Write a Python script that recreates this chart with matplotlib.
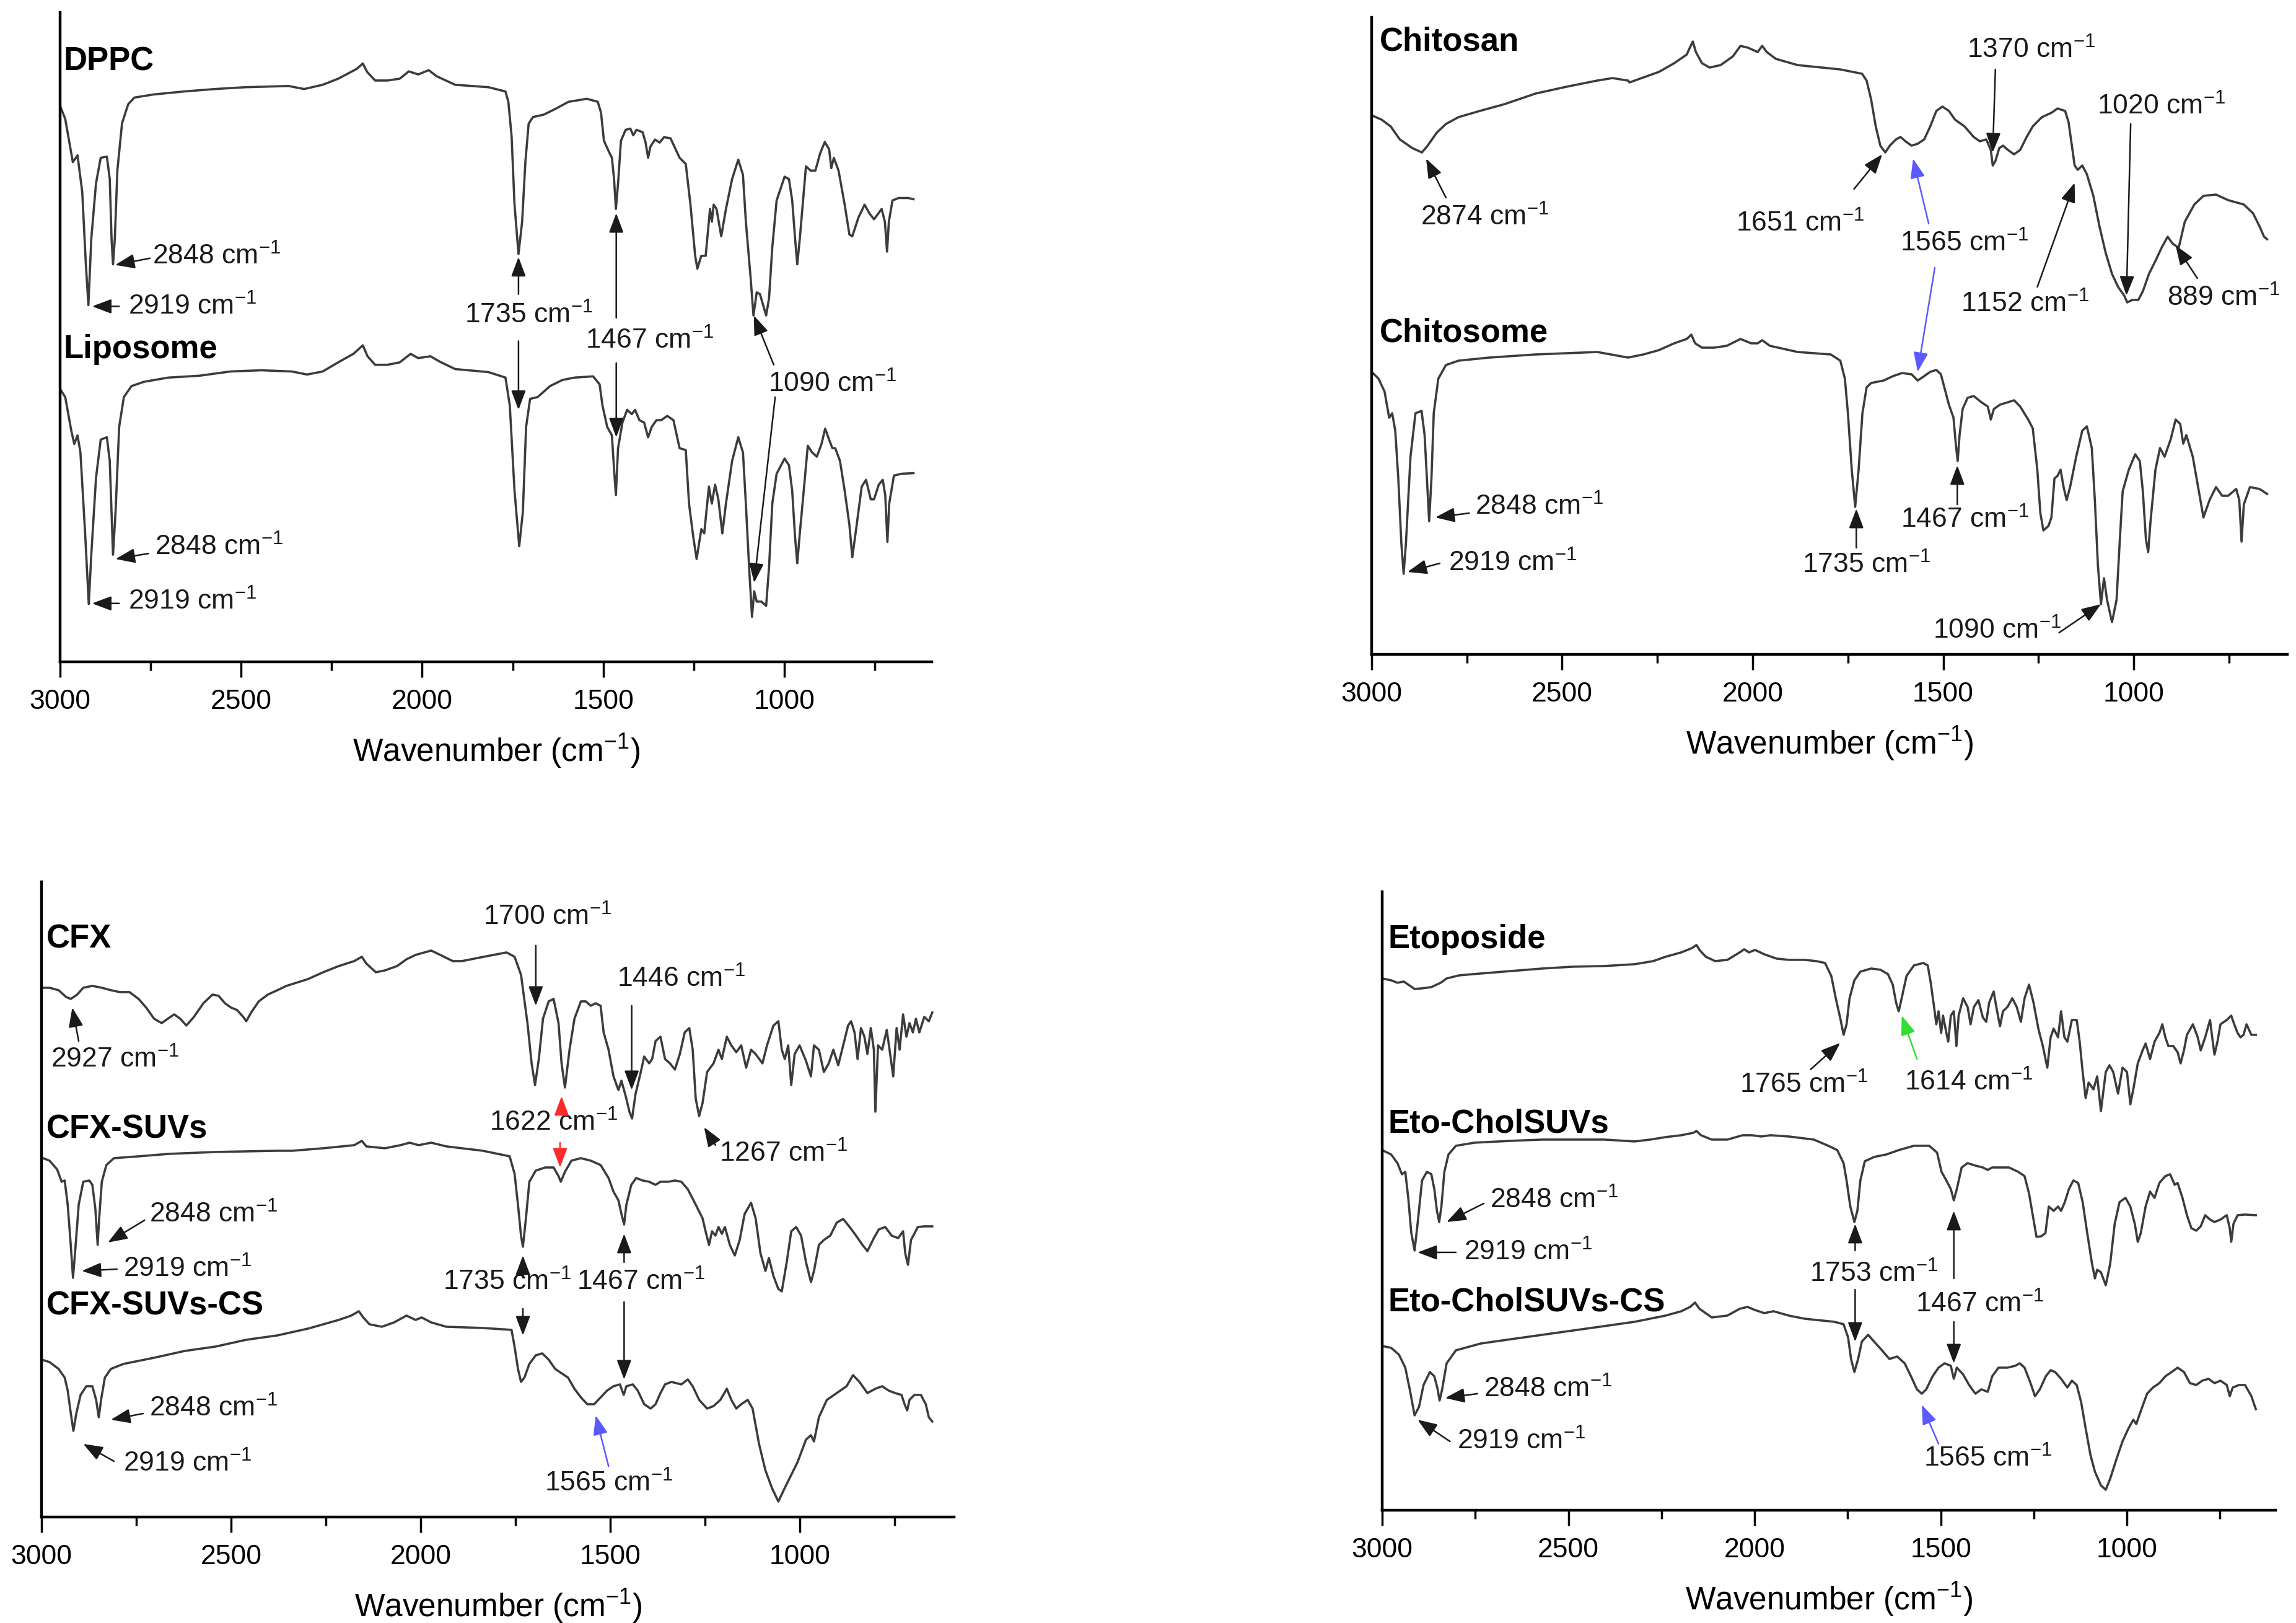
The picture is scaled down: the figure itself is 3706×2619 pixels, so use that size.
import matplotlib
matplotlib.use("Agg")
import matplotlib.pyplot as plt
from matplotlib.ticker import MultipleLocator

plt.rcParams['font.family'] = ['Liberation Sans', 'DejaVu Sans']
plt.rcParams['mathtext.fontset'] = 'custom'
plt.rcParams['mathtext.rm'] = 'Liberation Sans'
plt.rcParams['mathtext.it'] = 'Liberation Sans:italic'
plt.rcParams['mathtext.bf'] = 'Liberation Sans:bold'
plt.rcParams['mathtext.default'] = 'rm'

# ---------------- spectra (wavenumber, transmittance a.u., stacked) ----------------
dppc_w = [3000, 2986, 2969, 2965, 2952, 2939, 2929, 2922, 2914, 2901, 2888, 2871, 2863, 2858, 2854, 2849,
          2842, 2829, 2812, 2795, 2743, 2658, 2573, 2488, 2369, 2326, 2275, 2232, 2181, 2164, 2152, 2130,
          2096, 2062, 2037, 2011, 1982, 1960, 1909, 1817, 1770, 1762, 1753, 1745, 1734, 1724, 1715, 1706,
          1694, 1664, 1630, 1596, 1545, 1515, 1506, 1498, 1485, 1476, 1470, 1465, 1459, 1451, 1438, 1425,
          1417, 1408, 1391, 1383, 1376, 1370, 1357, 1344, 1332, 1314, 1289, 1272, 1259, 1246, 1240, 1229,
          1217, 1205, 1200, 1195, 1187, 1174, 1161, 1144, 1127, 1114, 1106, 1093, 1085, 1076, 1067, 1050,
          1042, 1033, 1021, 999, 987, 978, 970, 964, 957, 948, 940, 927, 914, 901, 888, 876, 870, 863, 850,
          833, 820, 812, 795, 778, 765, 752, 731, 722, 716, 711, 701, 684, 658, 643]
dppc_v = [91.3, 89.2, 83.5, 82.1, 83.2, 77.2, 65.3, 58.6, 69.5, 78.6, 82.8, 83.0, 79.3, 69.5, 65.3, 69.5,
          80.7, 88.5, 91.6, 92.7, 93.2, 93.7, 94.1, 94.4, 94.6, 94.1, 94.8, 95.8, 97.4, 98.3, 96.9, 95.5,
          95.5, 95.8, 97.0, 96.5, 97.2, 96.2, 94.8, 94.4, 93.7, 92.0, 86.3, 75.1, 67.0, 72.3, 82.1, 88.4,
          89.5, 89.9, 90.9, 92.0, 92.5, 92.0, 90.2, 85.6, 83.9, 82.8, 79.3, 74.4, 78.6, 85.6, 87.4, 87.6,
          86.5, 87.4, 87.0, 85.3, 82.8, 84.6, 85.8, 85.3, 86.2, 86.0, 82.8, 81.8, 75.1, 66.7, 64.6, 66.7,
          66.7, 74.4, 72.3, 75.1, 74.4, 69.9, 74.4, 79.3, 82.5, 80.0, 72.3, 63.2, 56.9, 60.7, 60.4, 56.9,
          59.7, 68.1, 75.8, 79.7, 79.3, 75.8, 69.5, 65.3, 69.5, 75.8, 81.4, 80.7, 80.7, 83.5, 85.4, 84.2,
          81.1, 82.8, 80.7, 75.1, 70.2, 69.9, 73.0, 75.1, 73.7, 72.7, 74.4, 72.3, 67.4, 72.3, 75.8, 76.2,
          76.2, 76.0]

lipo_w = [3000, 2986, 2969, 2961, 2952, 2944, 2931, 2921, 2914, 2901, 2888, 2871, 2863, 2854, 2847, 2837,
          2824, 2803, 2769, 2701, 2616, 2530, 2445, 2360, 2318, 2275, 2232, 2190, 2164, 2151, 2130, 2096,
          2062, 2032, 2011, 1977, 1951, 1909, 1817, 1770, 1758, 1745, 1732, 1722, 1713, 1702, 1681, 1647,
          1613, 1579, 1528, 1510, 1502, 1489, 1476, 1470, 1465, 1459, 1447, 1434, 1421, 1412, 1400, 1387,
          1376, 1366, 1353, 1340, 1323, 1306, 1289, 1272, 1263, 1251, 1242, 1229, 1221, 1208, 1200, 1191,
          1182, 1171, 1161, 1144, 1127, 1114, 1106, 1097, 1089, 1083, 1076, 1063, 1050, 1042, 1033, 1021,
          999, 987, 978, 970, 964, 957, 944, 935, 923, 910, 897, 887, 876, 867, 859, 846, 833, 820, 812,
          803, 786, 774, 761, 752, 739, 728, 721, 715, 710, 697, 676, 643]
lipo_v = [44.8, 43.5, 37.9, 35.8, 37.2, 34.4, 21.1, 9.5, 17.6, 30.2, 36.5, 36.9, 33.0, 17.6, 24.6, 38.6,
          43.5, 45.3, 46.0, 46.7, 47.0, 47.7, 47.9, 47.7, 47.2, 47.7, 49.2, 50.6, 52.0, 50.2, 48.8, 48.8,
          49.2, 50.6, 49.9, 50.2, 49.3, 48.1, 47.6, 46.7, 42.1, 28.1, 19.0, 24.6, 38.6, 43.2, 43.5, 45.3,
          46.3, 46.7, 46.9, 45.6, 42.1, 38.6, 37.2, 31.6, 27.4, 35.1, 39.3, 41.4, 40.7, 41.4, 39.7, 39.3,
          36.9, 38.6, 39.7, 39.7, 40.4, 39.7, 35.1, 34.8, 26.0, 20.4, 16.9, 21.8, 21.1, 28.8, 26.0, 29.1,
          26.7, 21.1, 26.0, 33.0, 36.9, 34.4, 26.0, 15.5, 7.4, 11.6, 9.9, 9.9, 9.2, 15.5, 26.0, 30.9,
          33.4, 32.3, 28.1, 20.4, 16.2, 21.1, 29.5, 35.5, 34.4, 33.7, 35.8, 38.3, 36.5, 35.1, 35.1, 33.0,
          28.1, 22.5, 17.2, 21.1, 28.8, 29.9, 26.7, 26.7, 29.1, 29.9, 27.4, 19.7, 26.0, 30.6, 30.9, 31.0]

chitosan_w = [3000, 2974, 2950, 2926, 2893, 2868, 2853, 2829, 2805, 2772, 2716, 2651, 2570, 2489, 2408,
              2368, 2327, 2323, 2287, 2246, 2206, 2173, 2165, 2157, 2149, 2133, 2113, 2084, 2052, 2032,
              2012, 1987, 1975, 1963, 1939, 1882, 1770, 1713, 1701, 1689, 1677, 1665, 1652, 1640, 1624,
              1612, 1599, 1583, 1567, 1550, 1534, 1518, 1502, 1485, 1469, 1444, 1420, 1404, 1387, 1375,
              1370, 1363, 1353, 1343, 1330, 1314, 1298, 1281, 1265, 1241, 1216, 1200, 1180, 1171, 1163,
              1155, 1147, 1135, 1123, 1106, 1090, 1074, 1057, 1041, 1025, 1017, 1004, 988, 976, 960, 943,
              927, 911, 898, 882, 866, 841, 817, 784, 752, 711, 687, 670, 658, 650]
chitosan_v = [87.0, 86.3, 85.2, 83.1, 81.7, 81.0, 82.1, 84.2, 85.6, 86.7, 87.7, 88.8, 90.5, 91.6, 92.6,
              93.0, 92.6, 92.3, 93.1, 94.0, 95.4, 96.8, 97.9, 98.9, 97.2, 95.4, 94.7, 95.1, 96.5, 98.2,
              97.9, 97.2, 98.2, 97.2, 96.1, 95.1, 94.4, 93.7, 92.6, 89.5, 85.2, 82.1, 81.0, 82.1, 83.1,
              83.5, 82.8, 82.1, 82.4, 83.1, 85.2, 87.7, 88.4, 87.7, 86.3, 85.2, 83.5, 82.8, 83.1, 81.4,
              78.9, 79.6, 81.7, 82.1, 81.4, 80.7, 81.4, 83.5, 85.2, 86.7, 87.4, 88.1, 87.7, 85.9, 82.4,
              78.9, 78.2, 78.9, 77.5, 74.0, 69.1, 64.9, 61.4, 59.3, 57.9, 56.8, 57.2, 57.2, 58.6, 61.4, 63.5,
              65.6, 67.4, 66.3, 65.6, 69.8, 72.6, 74.0, 74.2, 73.3, 72.6, 71.2, 69.1, 67.4, 67.0]

chitosome_w = [3000, 2982, 2966, 2954, 2946, 2938, 2930, 2922, 2916, 2910, 2898, 2885, 2869, 2861, 2855,
               2849, 2843, 2837, 2825, 2805, 2772, 2691, 2570, 2489, 2408, 2327, 2287, 2246, 2206, 2173,
               2161, 2151, 2133, 2101, 2068, 2032, 2004, 1987, 1975, 1955, 1882, 1795, 1770, 1758, 1750,
               1740, 1731, 1722, 1712, 1701, 1689, 1656, 1632, 1608, 1583, 1567, 1550, 1534, 1518, 1506,
               1497, 1485, 1473, 1467, 1462, 1457, 1449, 1436, 1420, 1400, 1383, 1375, 1367, 1351, 1330,
               1314, 1298, 1277, 1265, 1253, 1245, 1237, 1224, 1216, 1208, 1200, 1192, 1184, 1176, 1167,
               1151, 1135, 1123, 1110, 1102, 1094, 1086, 1078, 1070, 1057, 1045, 1037, 1029, 1013, 996, 984,
               976, 968, 962, 956, 943, 931, 919, 903, 890, 878, 870, 862, 845, 829, 817, 801, 784, 768,
               752, 731, 723, 717, 711, 695, 670, 650]
chitosome_v = [45.6, 44.5, 42.4, 38.2, 38.9, 36.1, 28.4, 17.9, 13.0, 17.9, 31.9, 38.9, 39.3, 35.4, 28.4,
               21.5, 28.4, 38.9, 44.5, 46.7, 47.4, 47.9, 48.4, 48.6, 48.8, 47.9, 48.4, 49.1, 50.2, 50.9,
               51.6, 50.2, 49.5, 49.5, 49.8, 50.9, 50.2, 50.2, 50.7, 49.8, 48.8, 48.4, 47.4, 44.5, 38.9,
               29.8, 23.8, 29.8, 38.9, 43.1, 43.8, 44.2, 44.9, 45.4, 45.2, 44.2, 44.9, 45.6, 45.9, 45.2,
               43.1, 40.3, 38.2, 34.0, 31.2, 35.4, 39.6, 41.4, 41.7, 40.7, 40.0, 37.9, 39.6, 40.3, 40.7,
               41.0, 40.0, 37.9, 36.5, 29.8, 22.8, 20.0, 20.7, 22.1, 28.4, 28.8, 29.8, 27.0, 24.9, 27.0,
               31.9, 36.1, 36.8, 33.3, 24.9, 14.4, 8.1, 12.3, 8.8, 5.2, 8.8, 17.9, 26.3, 29.8, 32.3, 31.2,
               26.3, 18.6, 16.5, 21.4, 29.8, 33.3, 31.9, 34.7, 37.9, 37.2, 34.0, 35.4, 31.9, 26.3, 22.1,
               24.9, 27.0, 25.6, 25.6, 26.7, 24.9, 18.2, 24.2, 27.0, 26.7, 25.9]

cfx_w = [3000, 2979, 2955, 2935, 2923, 2906, 2890, 2866, 2841, 2817, 2793, 2768, 2744, 2724, 2703, 2683,
         2667, 2650, 2634, 2618, 2598, 2573, 2549, 2533, 2516, 2500, 2484, 2468, 2460, 2447, 2427, 2403,
         2378, 2354, 2297, 2257, 2216, 2175, 2155, 2143, 2118, 2094, 2062, 2037, 2013, 1972, 1948, 1915,
         1891, 1833, 1773, 1752, 1735, 1718, 1707, 1698, 1688, 1677, 1662, 1649, 1636, 1628, 1619, 1607,
         1594, 1577, 1564, 1551, 1538, 1525, 1517, 1504, 1491, 1478, 1470, 1457, 1449, 1442, 1433, 1419,
         1410, 1397, 1389, 1380, 1367, 1355, 1342, 1329, 1316, 1303, 1291, 1282, 1274, 1265, 1256, 1244,
         1227, 1214, 1205, 1192, 1180, 1167, 1154, 1141, 1128, 1116, 1098, 1086, 1069, 1056, 1047, 1039,
         1030, 1022, 1013, 1000, 983, 970, 962, 949, 936, 923, 911, 898, 885, 872, 864, 855, 847, 838,
         829, 821, 812, 804, 800, 793, 782, 770, 761, 753, 744, 736, 727, 718, 710, 701, 693, 684, 671,
         659, 650]
cfx_v = [85.4, 85.4, 85.0, 83.9, 83.6, 84.3, 85.4, 85.7, 85.4, 85.0, 84.7, 84.7, 83.6, 82.2, 80.4, 79.7,
         80.4, 81.1, 80.4, 79.3, 80.7, 82.9, 84.3, 84.1, 82.9, 82.2, 81.8, 80.7, 80.0, 81.4, 83.2, 84.3,
         85.0, 85.7, 86.8, 87.9, 88.9, 89.7, 90.4, 89.3, 87.9, 88.2, 88.9, 90.0, 90.7, 91.4, 90.7, 89.7,
         89.7, 90.4, 91.1, 90.4, 87.5, 79.7, 73.2, 69.7, 73.9, 80.4, 83.2, 83.6, 79.7, 73.2, 69.3, 75.4,
         80.4, 83.2, 83.2, 82.5, 82.9, 82.5, 78.2, 75.4, 71.1, 68.9, 70.4, 67.5, 65.4, 64.3, 68.2, 71.8,
         74.3, 73.2, 73.9, 76.8, 77.5, 73.9, 73.2, 72.2, 74.7, 78.2, 78.9, 75.4, 67.5, 64.7, 66.8, 71.8,
         73.2, 75.4, 73.9, 77.5, 76.1, 75.0, 76.1, 72.5, 75.4, 74.7, 73.2, 76.1, 79.3, 80.0, 75.4, 73.9,
         76.1, 69.7, 74.7, 76.1, 73.6, 71.1, 76.1, 75.4, 71.8, 73.2, 75.4, 72.9, 76.1, 79.3, 80.0, 78.2,
         73.9, 78.9, 77.5, 74.7, 78.9, 75.4, 65.4, 76.1, 75.4, 78.6, 74.7, 71.1, 78.9, 75.4, 81.1, 77.5,
         79.7, 78.2, 80.4, 78.2, 80.7, 80.0, 81.4]

cfx_suv_w = [3000, 2979, 2959, 2947, 2939, 2931, 2923, 2917, 2910, 2902, 2890, 2874, 2866, 2858, 2852,
             2848, 2841, 2829, 2809, 2744, 2663, 2541, 2378, 2338, 2257, 2175, 2155, 2143, 2094, 2053,
             2029, 2005, 1972, 1932, 1836, 1765, 1752, 1743, 1735, 1730, 1722, 1713, 1696, 1671, 1649,
             1636, 1630, 1619, 1602, 1577, 1551, 1525, 1504, 1491, 1478, 1470, 1463, 1457, 1444, 1431,
             1414, 1397, 1380, 1367, 1346, 1329, 1312, 1295, 1274, 1256, 1248, 1239, 1231, 1222, 1214,
             1205, 1197, 1184, 1171, 1158, 1145, 1128, 1116, 1103, 1090, 1081, 1069, 1056, 1047, 1034,
             1022, 1009, 996, 983, 970, 962, 949, 936, 919, 902, 885, 868, 851, 834, 821, 804, 791, 774,
             757, 740, 727, 721, 714, 706, 688, 671, 650]
cfx_suv_v = [58.0, 57.5, 56.1, 54.1, 54.3, 50.4, 43.9, 38.6, 43.9, 50.4, 54.1, 54.3, 53.6, 49.7, 43.9,
             48.2, 54.1, 56.8, 57.9, 58.2, 58.6, 58.9, 59.1, 59.1, 59.5, 60.0, 60.7, 59.8, 59.5, 60.0,
             60.4, 60.0, 60.4, 59.8, 59.1, 58.2, 55.4, 50.4, 45.4, 43.6, 48.2, 54.1, 55.9, 56.4, 56.4,
             55.0, 54.1, 55.7, 57.5, 57.9, 57.5, 56.8, 54.7, 52.5, 51.1, 48.9, 47.2, 50.4, 53.6, 54.7,
             54.3, 54.1, 53.6, 54.1, 54.1, 54.3, 54.1, 52.9, 50.4, 48.2, 46.1, 43.9, 46.1, 45.4, 46.8,
             45.7, 46.8, 43.9, 42.2, 44.7, 48.9, 50.7, 48.2, 42.5, 39.7, 41.8, 38.9, 36.8, 36.4, 41.1,
             46.1, 46.8, 45.4, 41.1, 37.9, 39.7, 43.9, 44.7, 45.4, 47.5, 48.1, 46.8, 45.4, 43.9, 42.9,
             45.0, 46.4, 46.8, 45.4, 45.0, 46.1, 42.5, 40.7, 44.7, 46.8, 46.9, 46.9]

cfx_cs_w = [3000, 2979, 2955, 2939, 2931, 2923, 2916, 2908, 2897, 2882, 2866, 2856, 2849, 2843, 2833,
            2817, 2784, 2703, 2622, 2541, 2460, 2378, 2297, 2216, 2183, 2163, 2151, 2135, 2102, 2070,
            2037, 2013, 1997, 1972, 1932, 1836, 1760, 1752, 1743, 1735, 1726, 1713, 1696, 1679, 1662,
            1645, 1628, 1611, 1594, 1577, 1560, 1542, 1525, 1508, 1491, 1474, 1464, 1457, 1440, 1427,
            1410, 1393, 1380, 1367, 1355, 1338, 1312, 1295, 1282, 1265, 1244, 1227, 1209, 1192, 1180,
            1167, 1154, 1137, 1124, 1107, 1090, 1073, 1056, 1039, 1022, 1005, 983, 970, 962, 949, 928,
            902, 876, 859, 842, 821, 800, 782, 765, 748, 731, 723, 716, 710, 697, 680, 667, 659, 650]
cfx_cs_v = [25.4, 25.0, 23.9, 22.5, 20.4, 16.8, 13.9, 16.8, 19.7, 21.1, 21.1, 18.9, 16.1, 18.9, 22.5,
            23.9, 24.7, 25.7, 26.8, 27.5, 28.6, 29.3, 30.4, 31.8, 32.5, 33.2, 32.2, 31.1, 30.7, 31.4,
            32.5, 31.8, 32.2, 31.4, 30.7, 30.5, 30.2, 27.5, 23.9, 21.8, 22.5, 24.7, 26.1, 26.4, 25.4,
            23.9, 23.2, 22.5, 20.7, 19.3, 18.2, 18.2, 19.3, 20.4, 21.1, 21.4, 19.7, 21.1, 21.4, 20.4,
            18.2, 17.5, 18.2, 20.0, 21.4, 21.8, 21.4, 22.2, 21.1, 18.9, 17.5, 17.9, 18.9, 20.7, 18.9,
            17.5, 18.2, 18.9, 17.5, 11.8, 7.5, 4.7, 2.5, 4.7, 6.8, 8.9, 12.5, 13.2, 12.2, 16.1, 18.9,
            20.0, 21.1, 22.9, 21.8, 20.0, 20.7, 21.1, 20.4, 20.0, 19.7, 18.2, 17.2, 18.9, 19.7, 19.7,
            18.2, 16.1, 15.4]

eto_w = [3000, 2976, 2959, 2942, 2930, 2913, 2893, 2868, 2843, 2827, 2793, 2735, 2653, 2570, 2487, 2404,
         2322, 2272, 2239, 2197, 2168, 2156, 2148, 2131, 2106, 2073, 2040, 2028, 2015, 1999, 1974, 1941,
         1908, 1866, 1835, 1811, 1794, 1782, 1769, 1761, 1753, 1745, 1732, 1716, 1687, 1662, 1642, 1629,
         1620, 1613, 1605, 1592, 1572, 1547, 1535, 1527, 1518, 1512, 1506, 1499, 1494, 1485, 1480, 1473,
         1465, 1458, 1452, 1440, 1428, 1420, 1411, 1399, 1387, 1378, 1370, 1358, 1350, 1341, 1333, 1321,
         1308, 1296, 1285, 1275, 1263, 1251, 1238, 1226, 1214, 1205, 1197, 1185, 1177, 1168, 1160, 1148,
         1135, 1127, 1119, 1111, 1103, 1090, 1080, 1070, 1057, 1047, 1037, 1024, 1012, 1000, 991, 983,
         971, 958, 950, 938, 926, 913, 905, 897, 889, 876, 864, 856, 847, 839, 823, 810, 802, 790, 777,
         769, 765, 757, 749, 732, 720, 712, 703, 695, 687, 679, 666, 654]
eto_v = [85.8, 85.5, 85.1, 85.3, 84.8, 84.1, 84.2, 84.4, 85.1, 85.8, 86.3, 86.6, 87.0, 87.4, 87.7, 87.8,
         88.1, 88.6, 89.3, 90.0, 90.7, 91.2, 90.4, 89.3, 88.6, 88.8, 90.0, 90.5, 90.0, 90.4, 89.7, 89.0,
         88.8, 88.8, 88.6, 88.3, 86.2, 82.6, 79.1, 76.7, 78.4, 82.6, 85.5, 86.9, 87.4, 87.2, 86.5, 84.8,
         81.9, 80.5, 82.6, 86.2, 87.9, 88.3, 87.9, 85.1, 81.2, 78.4, 80.5, 77.0, 79.8, 77.0, 75.6, 79.8,
         80.5, 74.9, 79.8, 82.6, 81.2, 78.4, 81.2, 82.3, 79.5, 78.8, 81.9, 83.7, 80.9, 78.1, 80.5, 81.2,
         82.6, 81.2, 78.8, 82.6, 84.8, 81.9, 77.7, 74.9, 71.4, 76.3, 77.7, 76.3, 80.5, 76.3, 75.6, 79.1,
         79.1, 75.6, 70.7, 66.5, 69.0, 67.9, 70.0, 64.4, 70.7, 71.8, 70.7, 67.2, 71.4, 70.7, 65.5, 67.9,
         72.1, 74.2, 75.3, 72.8, 75.6, 77.0, 78.4, 76.3, 74.9, 74.9, 73.9, 72.1, 74.2, 76.7, 78.4, 76.3,
         74.2, 76.3, 79.1, 75.3, 73.5, 75.6, 78.4, 79.1, 79.8, 78.4, 77.0, 76.3, 76.7, 78.4, 76.7, 76.7]

eto_suv_w = [3000, 2976, 2959, 2947, 2938, 2930, 2922, 2913, 2905, 2893, 2880, 2868, 2860, 2853, 2847,
             2841, 2833, 2822, 2802, 2752, 2653, 2570, 2487, 2404, 2322, 2280, 2239, 2197, 2164, 2156,
             2144, 2115, 2073, 2032, 2007, 1982, 1957, 1908, 1841, 1802, 1778, 1761, 1753, 1743, 1732,
             1724, 1716, 1704, 1679, 1646, 1613, 1572, 1531, 1510, 1498, 1485, 1473, 1465, 1457, 1444,
             1428, 1407, 1387, 1374, 1362, 1341, 1317, 1292, 1275, 1263, 1251, 1243, 1230, 1219, 1210,
             1197, 1185, 1177, 1167, 1156, 1144, 1131, 1119, 1107, 1094, 1086, 1080, 1070, 1057, 1045,
             1033, 1020, 1004, 991, 979, 971, 963, 950, 938, 926, 913, 897, 884, 872, 864, 851, 839, 827,
             814, 802, 790, 777, 765, 749, 732, 724, 720, 714, 703, 683, 654]
eto_suv_v = [58.1, 57.4, 56.0, 54.2, 54.6, 50.4, 44.8, 41.9, 46.2, 53.2, 54.6, 54.2, 51.8, 48.3, 46.5,
             49.0, 54.6, 57.4, 58.8, 59.3, 59.6, 59.8, 59.8, 59.8, 59.5, 59.8, 60.2, 60.5, 60.9, 61.2,
             60.5, 59.8, 59.8, 60.5, 60.5, 60.3, 60.5, 60.3, 59.8, 58.8, 58.1, 56.0, 53.2, 49.0, 46.5,
             48.3, 53.2, 56.3, 57.0, 57.4, 58.1, 58.8, 58.8, 57.7, 54.6, 53.2, 51.8, 50.0, 51.8, 55.3,
             56.0, 55.6, 55.3, 54.9, 55.3, 55.3, 55.3, 54.6, 53.9, 51.1, 46.9, 44.1, 44.2, 44.7, 49.0,
             48.3, 49.0, 48.3, 49.7, 51.8, 53.2, 52.8, 49.7, 44.8, 39.8, 37.4, 38.8, 38.4, 36.3, 39.8,
             46.2, 49.7, 50.4, 49.0, 46.2, 43.3, 44.7, 49.0, 51.4, 50.4, 52.8, 53.9, 54.2, 52.5, 52.8,
             50.4, 47.6, 45.5, 45.1, 45.8, 47.6, 46.9, 46.5, 46.9, 47.6, 45.5, 43.3, 46.2, 47.6, 47.7, 47.6]

eto_cs_w = [3000, 2976, 2955, 2938, 2926, 2913, 2901, 2889, 2872, 2860, 2851, 2846, 2839, 2827, 2802,
            2735, 2653, 2570, 2487, 2404, 2322, 2239, 2197, 2173, 2160, 2148, 2115, 2073, 2040, 2019,
            1999, 1974, 1949, 1908, 1866, 1835, 1786, 1761, 1749, 1741, 1732, 1722, 1712, 1695, 1679,
            1658, 1638, 1617, 1597, 1580, 1564, 1551, 1539, 1522, 1506, 1490, 1473, 1465, 1457, 1440,
            1424, 1407, 1391, 1374, 1362, 1345, 1321, 1300, 1288, 1275, 1259, 1247, 1234, 1218, 1205,
            1193, 1177, 1160, 1148, 1135, 1123, 1111, 1098, 1086, 1070, 1057, 1045, 1028, 1012, 996, 983,
            975, 963, 946, 930, 913, 897, 880, 864, 847, 831, 814, 798, 781, 765, 749, 732, 724, 716, 699,
            683, 666, 654]
eto_cs_v = [26.5, 26.2, 25.1, 23.0, 19.5, 15.3, 16.7, 20.2, 22.3, 21.6, 19.5, 17.7, 19.5, 23.7, 25.8,
            26.9, 27.6, 28.3, 29.0, 29.7, 30.4, 31.4, 32.1, 32.8, 33.5, 32.5, 31.1, 31.4, 32.5, 32.8,
            32.3, 31.8, 32.1, 31.4, 30.9, 30.7, 30.4, 30.0, 27.9, 24.4, 22.3, 24.4, 27.2, 28.3, 27.2,
            25.8, 24.4, 24.8, 23.7, 21.6, 19.5, 18.8, 19.5, 21.6, 23.0, 23.7, 23.3, 21.2, 23.0, 21.9,
            20.2, 18.8, 19.5, 19.1, 21.6, 23.0, 23.0, 23.3, 23.7, 23.0, 20.5, 18.4, 19.5, 21.6, 22.6,
            22.3, 21.2, 19.8, 20.9, 20.2, 17.4, 13.2, 8.9, 6.2, 4.0, 3.3, 5.1, 8.3, 11.1, 13.2, 14.6,
            13.9, 16.0, 18.8, 19.8, 20.5, 21.6, 22.3, 23.0, 22.3, 20.5, 20.2, 20.9, 21.2, 20.5, 20.9,
            20.2, 18.4, 19.8, 20.2, 20.2, 18.4, 16.3]

# ---------------- labels & peak annotations ----------------
CM = " cm$^{-1}$"
tl_names = [("DPPC", 2990, 98.6), ("Liposome", 2990, 51.3)]
tl_notes = [("2848", 2745, 66.6, "left"), ("2919", 2812, 58.3, "left"),
            ("2848", 2739, 18.8, "left"), ("2919", 2812, 9.9, "left"),
            ("1735", 1705, 56.9, "center"), ("1467", 1372, 52.7, "center"),
            ("1090", 867, 45.6, "center")]
tl_arrows = [(2752, 66.3, 2848, 65.2, "k"), (2837, 58.4, 2912, 58.4, "k"),
             (2756, 17.8, 2847, 16.9, "k"), (2837, 9.6, 2912, 9.6, "k"),
             (1734, 60.4, 1734, 66.5, "k"), (1734, 52.7, 1734, 41.4, "k"),
             (1464, 56.5, 1464, 73.7, "k"), (1464, 49.1, 1464, 36.9, "k"),
             (1029, 48.8, 1084, 56.9, "k"), (1025, 43.5, 1083, 13.0, "k")]

tr_names = [("Chitosan", 2979, 98.9), ("Chitosome", 2979, 51.9)]
tr_notes = [("2874", 2871, 70.5, "left"), ("1651", 2044, 69.5, "left"),
            ("1565", 1444, 66.3, "center"), ("1370", 1269, 97.5, "center"),
            ("1020", 927, 88.4, "center"), ("1152", 1286, 56.5, "center"),
            ("889", 764, 57.5, "center"), ("2848", 2728, 23.8, "left"),
            ("2919", 2798, 14.7, "left"), ("1735", 1701, 14.4, "center"),
            ("1467", 1443, 21.7, "center"), ("1090", 1359, 3.8, "center")]
tr_arrows = [(2805, 73.7, 2857, 80.0, "k"), (1734, 75.1, 1660, 80.7, "k"),
             (1538, 69.5, 1579, 80.0, "blue"), (1522, 62.4, 1567, 45.6, "blue"),
             (1363, 94.4, 1370, 81.0, "k"), (1008, 85.6, 1019, 57.9, "k"),
             (1253, 59.3, 1155, 76.1, "k"), (833, 60.7, 890, 66.0, "k"),
             (2744, 22.8, 2833, 22.1, "k"), (2821, 14.7, 2906, 13.3, "k"),
             (1728, 17.2, 1728, 23.5, "k"), (1463, 24.2, 1463, 30.5, "k"),
             (1196, 3.5, 1086, 8.1, "k")]

bl_names = [("CFX", 2988, 93.2), ("CFX-SUVs", 2988, 62.5), ("CFX-SUVs-CS", 2988, 34.0)]
bl_notes = [("2927", 2975, 73.8, "left"), ("2848", 2715, 48.8, "left"),
            ("2919", 2784, 40.0, "left"), ("2848", 2715, 17.5, "left"),
            ("2919", 2784, 8.6, "left"), ("1700", 1666, 96.8, "center"),
            ("1446", 1312, 86.8, "center"), ("1622", 1649, 63.6, "center"),
            ("1267", 1043, 58.6, "center"), ("1735", 1771, 37.9, "center"),
            ("1467", 1419, 37.9, "center"), ("1565", 1504, 5.4, "center")]
bl_arrows = [(2902, 76.8, 2919, 82.2, "k"), (2728, 47.9, 2825, 44.3, "k"),
             (2801, 40.0, 2894, 39.7, "k"), (2732, 16.7, 2817, 15.7, "k"),
             (2809, 9.0, 2890, 11.8, "k"), (1696, 92.2, 1696, 82.5, "k"),
             (1443, 82.5, 1443, 68.9, "k"), (1628, 65.0, 1628, 67.9, "red"),
             (1632, 60.4, 1632, 56.4, "red"), (1222, 60.0, 1252, 62.9, "k"),
             (1730, 38.6, 1730, 42.2, "k"), (1730, 33.6, 1730, 29.3, "k"),
             (1463, 41.1, 1463, 45.7, "k"), (1463, 34.7, 1463, 22.2, "k"),
             (1504, 8.2, 1538, 16.4, "blue")]

br_names = [("Etoposide", 2984, 92.1), ("Eto-CholSUVs", 2984, 62.3), ("Eto-CholSUVs-CS", 2984, 33.5)]
br_notes = [("1765", 2040, 68.6, "left"), ("1614", 1426, 69.0, "center"),
            ("2848", 2711, 50.0, "left"), ("2919", 2781, 41.6, "left"),
            ("2848", 2727, 19.5, "left"), ("2919", 2798, 11.1, "left"),
            ("1753", 1680, 38.1, "center"), ("1467", 1395, 33.2, "center"),
            ("1565", 1373, 8.3, "center")]
br_arrows = [(1850, 71.1, 1770, 75.4, "k"), (1564, 72.8, 1605, 79.8, "green"),
             (2727, 49.5, 2827, 46.5, "k"), (2802, 41.6, 2905, 41.6, "k"),
             (2744, 18.8, 2831, 18.1, "k"), (2818, 11.1, 2905, 14.6, "k"),
             (1730, 41.9, 1730, 46.2, "k"), (1730, 35.6, 1730, 27.2, "k"),
             (1465, 37.4, 1465, 48.3, "k"), (1465, 30.4, 1465, 23.7, "k"),
             (1506, 10.7, 1551, 17.0, "blue")]

COLORS = {"k": "#1a1a1a", "blue": "#5a5aff", "red": "#ff2a2a", "green": "#33dd33"}
LINE = "#3c3c3c"

fig = plt.figure(figsize=(37.06, 26.19), dpi=100)


def panel(rect, series, names, notes, arrows, xlim, ylim):
    ax = fig.add_axes(rect)
    for w, v in series:
        ax.plot(w, v, color=LINE, lw=2.6, solid_joinstyle="round")
    for name, x, y in names:
        ax.text(x, y, name, fontsize=38, fontweight="bold", ha="left", va="center")
    for lab, x, y, ha in notes:
        ax.text(x, y, lab + CM, fontsize=32, ha=ha, va="center", color="#1a1a1a")
    for x0, y0, x1, y1, c in arrows:
        ax.annotate("", xy=(x1, y1), xytext=(x0, y0),
                    arrowprops=dict(arrowstyle="-|>,head_length=0.8,head_width=0.3",
                                    color=COLORS[c], lw=1.8, shrinkA=0, shrinkB=0,
                                    mutation_scale=24))
    ax.set_xlim(*xlim)
    ax.set_ylim(*ylim)
    ax.set_yticks([])
    ax.xaxis.set_major_locator(MultipleLocator(500))
    ax.xaxis.set_minor_locator(MultipleLocator(250))
    ax.tick_params(axis="x", which="major", length=18, width=2.5, labelsize=32, pad=14)
    ax.tick_params(axis="x", which="minor", length=10, width=2.5)
    for s in ("top", "right"):
        ax.spines[s].set_visible(False)
    for s in ("left", "bottom"):
        ax.spines[s].set_linewidth(3.2)
    ax.set_xlabel("Wavenumber (cm$^{-1}$)", fontsize=37, labelpad=20)
    return ax


panel([0.0262, 0.5922, 0.3797, 0.4002], [(dppc_w, dppc_v), (lipo_w, lipo_v)],
      tl_names, tl_notes, tl_arrows, (3000, 592), (0, 106.7))
panel([0.5974, 0.5968, 0.3988, 0.3925], [(chitosan_w, chitosan_v), (chitosome_w, chitosome_v)],
      tr_names, tr_notes, tr_arrows, (3000, 597), (0, 102.8))
panel([0.0181, 0.0653, 0.3975, 0.3914],
      [(cfx_w, cfx_v), (cfx_suv_w, cfx_suv_v), (cfx_cs_w, cfx_cs_v)],
      bl_names, bl_notes, bl_arrows, (3000, 592), (0, 102.5))
panel([0.6020, 0.0695, 0.3891, 0.3811],
      [(eto_w, eto_v), (eto_suv_w, eto_suv_v), (eto_cs_w, eto_cs_v)],
      br_names, br_notes, br_arrows, (3000, 601), (0, 99.8))

fig.savefig("out.png", dpi=100)
